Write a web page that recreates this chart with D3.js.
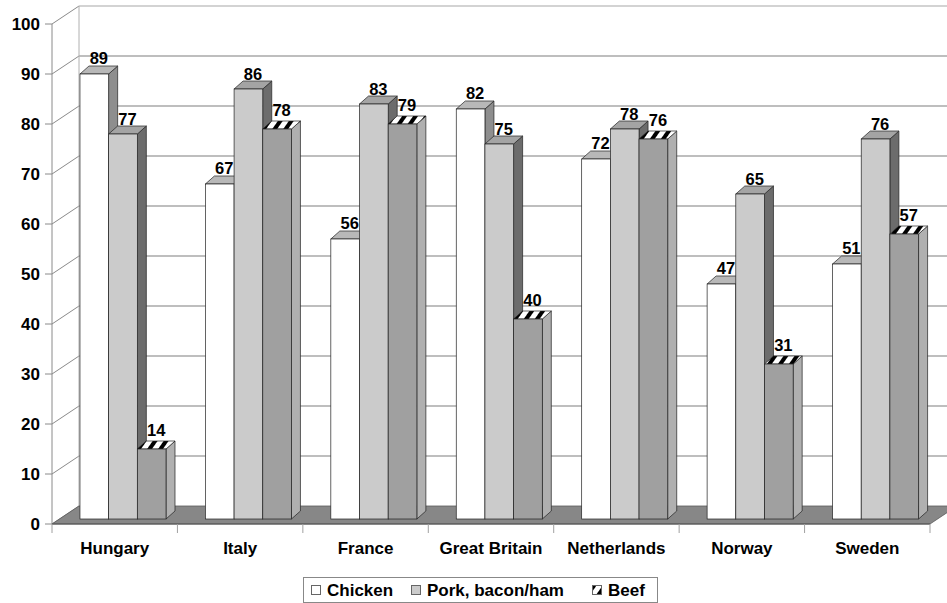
<!DOCTYPE html>
<html>
<head>
<meta charset="utf-8">
<script src="https://cdn.jsdelivr.net/npm/d3@7"></script>
<style>
  html, body { margin: 0; padding: 0; background: #fff; }
  svg { display: block; font-family: "Liberation Sans", Arial, sans-serif; font-weight: bold; }
</style>
</head>
<body>
<div id="chart"></div>
<script>
// data
const categories = ["Hungary", "Italy", "France", "Great Britain", "Netherlands", "Norway", "Sweden"];
const seriesNames = ["Chicken", "Pork, bacon/ham", "Beef"];
const chicken = [89, 67, 56, 82, 72, 47, 51];
const pork = [77, 86, 83, 75, 78, 65, 76];
const beef = [14, 78, 79, 40, 76, 31, 57];
const yTicks = [0, 10, 20, 30, 40, 50, 60, 70, 80, 90, 100];

const width = 947, height = 603;
const wall = { dx: 27, dy: -18 };      // depth of the whole plot box
const front = { dx: 0, dy: -5 };       // where bar fronts sit in depth
const depth = { dx: 9, dy: -8 };       // bar depth

const colors = {
  "Chicken": { front: "#ffffff", top: "#b8b8b8", side: "#8e8e8e", lab: -2 },
  "Pork, bacon/ham": { front: "#cbcbcb", top: "#a4a4a4", side: "#6c6c6c", lab: -1 },
  "Beef": { front: "#a0a0a0", top: "url(#hatch)", side: "#b0b0b0", lab: -5 }
};

const svg = d3.select("#chart").append("svg")
  .attr("width", width)
  .attr("height", height);

const defs = svg.append("defs");
const pat = defs.append("pattern")
  .attr("id", "hatch")
  .attr("patternUnits", "userSpaceOnUse")
  .attr("width", 9).attr("height", 9)
  .attr("patternTransform", "rotate(35)");
pat.append("rect").attr("width", 9).attr("height", 9).attr("fill", "#fff");
pat.append("rect").attr("width", 4).attr("height", 9).attr("fill", "#000");

// Scales
const x = d3.scaleBand().domain(categories).range([52, 930]);
const bw = x.bandwidth();
const xs = d3.scaleBand().domain(seriesNames).range([bw * 0.223, bw * 0.223 + bw * 0.686]);
const y = d3.scaleLinear().domain([0, 100]).range([524, 24]);

const x0 = x.range()[0], x1 = x.range()[1];

// Left wall diagonals + back wall gridlines
const grid = svg.append("g");
grid.selectAll("line.diag").data(yTicks).enter().append("line")
  .attr("x1", x0).attr("y1", d => y(d))
  .attr("x2", x0 + wall.dx).attr("y2", d => y(d) + wall.dy)
  .attr("stroke", "#8a8a8a").attr("stroke-width", 1);
grid.selectAll("line.back").data(yTicks.slice(1)).enter().append("line")
  .attr("x1", x0 + wall.dx).attr("y1", d => y(d) + wall.dy)
  .attr("x2", x1 + wall.dx + 40).attr("y2", d => y(d) + wall.dy)
  .attr("stroke", d => d === 100 ? "#c4c4c4" : "#a8a8a8").attr("stroke-width", 1.3);
grid.append("line")
  .attr("x1", x0 + wall.dx).attr("y1", y(100) + wall.dy)
  .attr("x2", x0 + wall.dx).attr("y2", y(0) + wall.dy)
  .attr("stroke", "#b0b0b0");

// Floor
svg.append("path")
  .attr("d", `M${x0},${y(0)} L${x0 + wall.dx},${y(0) + wall.dy} L${x1 + wall.dx},${y(0) + wall.dy} L${x1},${y(0)} Z`)
  .attr("fill", "#878787")
  .attr("stroke", "#5a5a5a").attr("stroke-width", 0.8);

// Front value axis
const axis = svg.append("g");
axis.append("line")
  .attr("x1", x0).attr("y1", y(100)).attr("x2", x0).attr("y2", y(0))
  .attr("stroke", "#8a8a8a");
axis.selectAll("line.tick").data(yTicks).enter().append("line")
  .attr("x1", x0 - 7).attr("x2", x0).attr("y1", d => y(d)).attr("y2", d => y(d))
  .attr("stroke", "#8a8a8a");
axis.selectAll("text").data(yTicks).enter().append("text")
  .attr("x", x0 - 12).attr("y", d => y(d))
  .attr("dy", "0.36em")
  .attr("text-anchor", "end")
  .attr("font-size", 17)
  .text(d => d);

// Category axis
const cat = svg.append("g");
cat.append("line")
  .attr("x1", x0).attr("x2", x1).attr("y1", y(0)).attr("y2", y(0))
  .attr("stroke", "#555");
cat.selectAll("line.tick").data(categories.concat(["__end"])).enter().append("line")
  .attr("x1", (d, i) => x0 + i * bw).attr("x2", (d, i) => x0 + i * bw)
  .attr("y1", y(0)).attr("y2", y(0) + 9)
  .attr("stroke", "#a0a0a0");
cat.selectAll("text").data(categories).enter().append("text")
  .attr("x", d => x(d) + bw / 2)
  .attr("y", 554)
  .attr("text-anchor", "middle")
  .attr("font-size", 17)
  .text(d => d);

// Bars
const rows = [];
categories.forEach((c, i) => {
  rows.push({ cat: c, s: "Chicken", v: chicken[i] });
  rows.push({ cat: c, s: "Pork, bacon/ham", v: pork[i] });
  rows.push({ cat: c, s: "Beef", v: beef[i] });
});

const bars = svg.append("g").selectAll("g.bar").data(rows).enter().append("g");
bars.each(function(d) {
  const g = d3.select(this);
  const l = x(d.cat) + xs(d.s) + front.dx;
  const r = l + xs.bandwidth();
  const t = y(d.v) + front.dy;
  const b = y(0) + front.dy;
  const c = colors[d.s];
  g.append("path")
    .attr("d", `M${r},${b} L${r + depth.dx},${b + depth.dy} L${r + depth.dx},${t + depth.dy} L${r},${t} Z`)
    .attr("fill", c.side).attr("stroke", "#222").attr("stroke-width", 0.7);
  g.append("path")
    .attr("d", `M${l},${t} L${l + depth.dx},${t + depth.dy} L${r + depth.dx},${t + depth.dy} L${r},${t} Z`)
    .attr("fill", c.top).attr("stroke", "#222").attr("stroke-width", 0.7);
  g.append("rect")
    .attr("x", l).attr("y", t).attr("width", r - l).attr("height", b - t)
    .attr("fill", c.front).attr("stroke", "#222").attr("stroke-width", 0.7);
});

// Value labels
svg.append("g").selectAll("text").data(rows).enter().append("text")
  .attr("x", d => x(d.cat) + xs(d.s) + xs.bandwidth() / 2 + depth.dx / 2)
  .attr("y", d => y(d.v) + front.dy + depth.dy + colors[d.s].lab)
  .attr("text-anchor", "middle")
  .attr("font-size", 16.5)
  .text(d => d.v);

// Legend
const legend = svg.append("g");
legend.append("rect")
  .attr("x", 303.5).attr("y", 577.5).attr("width", 354).attr("height", 25)
  .attr("fill", "#fff").attr("stroke", "#888");
const legX = [311, 411, 592];
const items = legend.selectAll("g").data(seriesNames).enter().append("g")
  .attr("transform", (d, i) => `translate(${legX[i]},585)`);
items.append("rect")
  .attr("x", 0.5).attr("y", 0.5).attr("width", 9).attr("height", 9)
  .attr("fill", d => d === "Beef" ? "url(#hatch)" : colors[d].front)
  .attr("stroke", "#666");
items.append("text")
  .attr("x", 16).attr("y", 11)
  .attr("font-size", 17)
  .text(d => d);
</script>
</body>
</html>
